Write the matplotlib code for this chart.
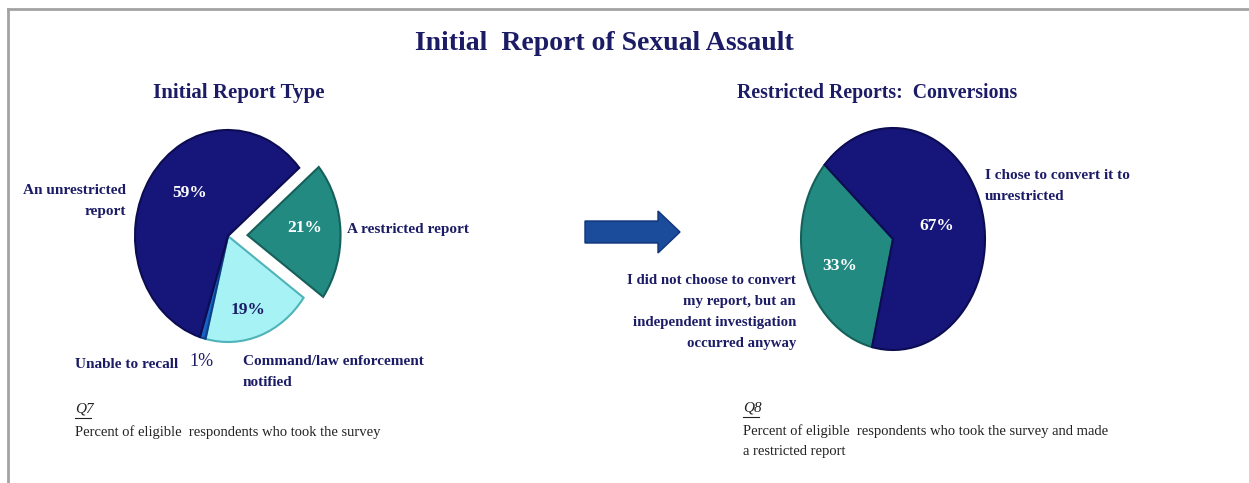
import matplotlib
matplotlib.use("Agg")
import matplotlib.pyplot as plt
from matplotlib.patches import FancyArrow
from matplotlib.lines import Line2D

W, H = 1249, 483

# left pie: initial report type
left_labels = ["A restricted report", "Command/law enforcement\nnotified",
               "Unable to recall", "An unrestricted\nreport"]
left_values = [21, 19, 1, 59]
left_colors = ["#238a82", "#a6f2f4", "#1862c4", "#16167a"]
left_edges = ["#15605a", "#4fb3b8", "#0e3f8a", "#0c0c52"]

# right pie: conversions of restricted reports
right_labels = ["I did not choose to convert\nmy report, but an\nindependent investigation\noccurred anyway",
                "I chose to convert it to\nunrestricted"]
right_values = [33, 67]
right_colors = ["#238a82", "#16167a"]
right_edges = ["#15605a", "#0c0c52"]

NAVY = "#1c1c66"
SERIF = "Liberation Serif"
LS = 1.8


def fx(x):
    return x / W


def fy(y):
    return 1 - y / H


def put(x, y, s, **kw):
    kw.setdefault("family", SERIF)
    kw.setdefault("weight", "bold")
    kw.setdefault("color", NAVY)
    kw.setdefault("va", "center")
    return fig.text(fx(x), fy(y), s, **kw)


def pie_axes(cx, cy, rx, ry, pad=1.35):
    """Axes where the unit circle maps to an ellipse rx by ry pixels."""
    ax = fig.add_axes([fx(cx - pad * rx), fy(cy + pad * ry),
                       2 * pad * rx / W, 2 * pad * ry / H])
    return ax, pad


fig = plt.figure(figsize=(W / 100, H / 100), dpi=100)
fig.patch.set_facecolor("white")

# frame lines
fig.add_artist(Line2D([fx(8), fx(8)], [fy(9), fy(483)], color="#a3a3a3", lw=2))
fig.add_artist(Line2D([fx(8), fx(1249)], [fy(9), fy(9)], color="#a3a3a3", lw=2))

# left pie
ax1, pad = pie_axes(228, 236, 93, 106)
wedges, _ = ax1.pie(left_values, colors=left_colors, startangle=40,
                    counterclock=False, explode=[0.21, 0, 0, 0],
                    wedgeprops=dict(linewidth=1.5))
for w, ec in zip(wedges, left_edges):
    w.set_edgecolor(ec)
ax1.set_aspect("auto")
ax1.set_xlim(-pad, pad)
ax1.set_ylim(-pad, pad)
ax1.axis("off")

# right pie
ax2, pad = pie_axes(893, 239, 92, 111)
wedges, _ = ax2.pie(right_values, colors=right_colors, startangle=138,
                    counterclock=True, wedgeprops=dict(linewidth=1.5))
for w, ec in zip(wedges, right_edges):
    w.set_edgecolor(ec)
ax2.set_aspect("auto")
ax2.set_xlim(-pad, pad)
ax2.set_ylim(-pad, pad)
ax2.axis("off")

# arrow between pies
fig.add_artist(FancyArrow(fx(585), fy(232), fx(680) - fx(585), 0,
                          width=22 / H, head_width=42 / H,
                          head_length=(680 - 658) / W,
                          length_includes_head=True, transform=fig.transFigure,
                          facecolor="#1b4c9c", edgecolor="#10347a", lw=1))

# titles
put(604, 43, "Initial  Report of Sexual Assault", fontsize=20, ha="center")
put(239, 93, "Initial Report Type", fontsize=15, ha="center")
put(877, 93, "Restricted Reports:  Conversions", fontsize=14.2, ha="center")

# left pie labels
put(126, 201, left_labels[3], fontsize=11, ha="right", multialignment="right",
    linespacing=LS)
put(347, 230, left_labels[0], fontsize=11, ha="left")
put(178, 364, left_labels[2], fontsize=11, ha="right")
put(243, 372, left_labels[1], fontsize=11, ha="left", linespacing=LS)
put(190, 193, f"{left_values[3]}%", fontsize=12.5, ha="center", color="white")
put(305, 228, f"{left_values[0]}%", fontsize=12.5, ha="center", color="white")
put(248, 310, f"{left_values[1]}%", fontsize=12.5, ha="center")
put(201, 361, f"{left_values[2]}%", fontsize=13, ha="center", weight="normal")

# right pie labels
put(985, 186, right_labels[1], fontsize=11, ha="left", linespacing=LS)
put(796, 312, right_labels[0], fontsize=10.7, ha="right", multialignment="right",
    linespacing=LS)
put(937, 226, f"{right_values[1]}%", fontsize=12.5, ha="center", color="white")
put(840, 266, f"{right_values[0]}%", fontsize=12.5, ha="center", color="white")

# question notes
put(75, 409, "Q7", fontsize=11, ha="left", weight="normal", style="italic",
    color="#222222")
fig.add_artist(Line2D([fx(75), fx(91)], [fy(418), fy(418)], color="#222222", lw=0.8))
put(75, 432, "Percent of eligible  respondents who took the survey", fontsize=10.5,
    ha="left", weight="normal", color="#222222")
put(743, 408, "Q8", fontsize=11, ha="left", weight="normal", style="italic",
    color="#222222")
fig.add_artist(Line2D([fx(743), fx(759)], [fy(417), fy(417)], color="#222222", lw=0.8))
put(743, 441, "Percent of eligible  respondents who took the survey and made\na restricted report",
    fontsize=10.5, ha="left", weight="normal", color="#222222", linespacing=1.75)

fig.savefig("out.png", dpi=100, facecolor="white")
